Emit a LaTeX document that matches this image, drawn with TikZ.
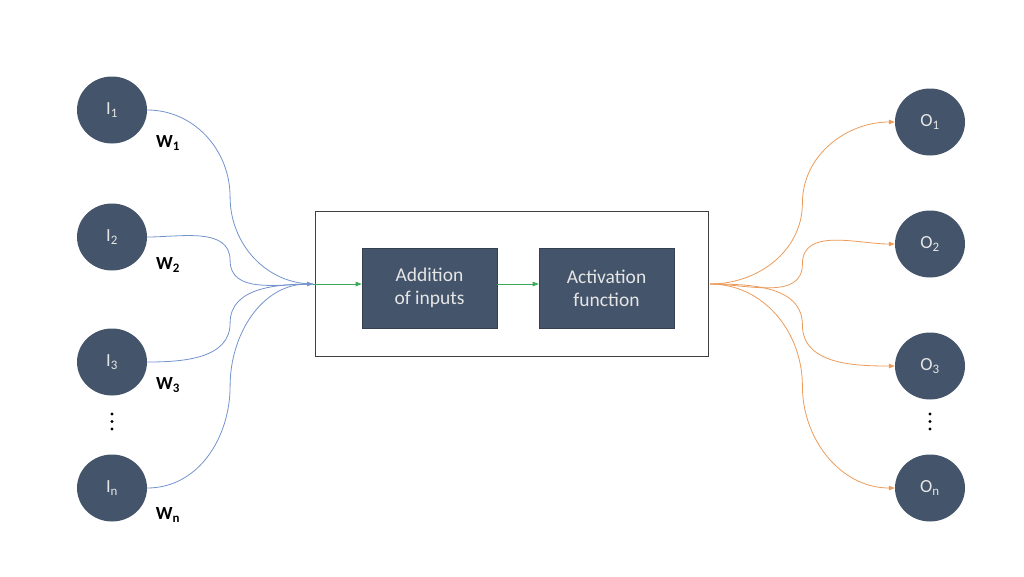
\documentclass[tikz,border=0pt]{standalone}
\usepackage{fontspec}
\setmainfont{Carlito}
\usetikzlibrary{shapes.geometric,arrows.meta,calc}
\definecolor{slate}{HTML}{44546A}
\definecolor{slateedge}{HTML}{34404F}
\definecolor{linkblue}{HTML}{7393CC}
\definecolor{linkorange}{HTML}{EB9B5B}
\definecolor{linkgreen}{HTML}{3CA95A}
\definecolor{boxline}{HTML}{404040}
\definecolor{nodetext}{HTML}{E6E6E6}
\begin{document}
\begin{tikzpicture}[x=1pt,y=-1pt,
  neuron/.style={ellipse, fill=slate, minimum width=70pt, minimum height=67pt, inner sep=0pt, text=nodetext, font=\fontsize{18.5}{20}\selectfont},
  procbox/.style={rectangle, fill=slate, draw=slateedge, line width=0.6pt, minimum width=135pt, minimum height=80pt, inner sep=0pt, text=nodetext, align=center, font=\fontsize{19.5}{23}\selectfont},
  outerbox/.style={rectangle, draw=boxline, line width=0.8pt, minimum width=393pt, minimum height=145pt, inner sep=0pt},
  weight/.style={font=\bfseries\fontsize{18.5}{20}\selectfont, text=black},
  inlink/.style={draw=linkblue, line width=0.8pt},
  inarrow/.style={draw=linkblue, line width=0.8pt, -{Triangle[length=6pt,width=4.5pt]}},
  outlink/.style={draw=linkorange, line width=0.8pt, -{Triangle[length=6pt,width=4.5pt]}},
  flow/.style={draw=linkgreen, line width=0.8pt, -{Triangle[length=6pt,width=4.5pt]}},
  dotmark/.style={fill=black}
]
\useasboundingbox (0,0) rectangle (1024,576);

% input neurons
\node[neuron] (I1) at (112,110) {I\textsubscript{1}};
\node[neuron] (I2) at (112,237) {I\textsubscript{2}};
\node[neuron] (I3) at (112,362) {I\textsubscript{3}};
\node[neuron] (In) at (112,488) {I\textsubscript{n}};

% weights
\node[weight] (W1) at (168,143) {W\textsubscript{1}};
\node[weight] (W2) at (168,265) {W\textsubscript{2}};
\node[weight] (W3) at (168,385) {W\textsubscript{3}};
\node[weight] (Wn) at (168,515) {W\textsubscript{n}};

% output neurons
\node[neuron] (O1) at (930,122) {O\textsubscript{1}};
\node[neuron] (O2) at (930,244) {O\textsubscript{2}};
\node[neuron] (O3) at (930,366) {O\textsubscript{3}};
\node[neuron] (On) at (930,488) {O\textsubscript{n}};

% neuron body
\node[outerbox] (body) at (512,283.5) {};
\node[procbox] (add) at (429.5,288) {Addition\\of inputs};
\node[procbox] (act) at (606.5,288) {Activation\\function};

\coordinate (conv) at (313,284);
\coordinate (src) at (710,284);

% inputs converge
\draw[inlink] (I1.east) to[out=0,in=90] ($(I1.east)!0.5!(conv)$) to[out=-90,in=180] (conv);
\draw[inlink] (I2.east) to[out=0,in=90] ($(I2.east)!0.5!(conv)$) to[out=-90,in=180] (conv);
\draw[inlink] (I3.east) to[out=0,in=-90] ($(I3.east)!0.5!(conv)$) to[out=90,in=180] (conv);
\draw[inarrow] (In.east) to[out=0,in=-90] ($(In.east)!0.5!(conv)$) to[out=90,in=180] (conv);

% internal flow
\draw[flow] (conv) -- (add.west |- conv);
\draw[flow] (add.east |- conv) -- (act.west |- conv);

% outputs diverge
\draw[outlink] (src) to[out=0,in=-90] ($(src)!0.5!(O1.west)$) to[out=90,in=180] (O1.west);
\draw[outlink] (src) to[out=0,in=-90] ($(src)!0.5!(O2.west)$) to[out=90,in=180] (O2.west);
\draw[outlink] (src) to[out=0,in=90] ($(src)!0.5!(O3.west)$) to[out=-90,in=180] (O3.west);
\draw[outlink] (src) to[out=0,in=90] ($(src)!0.5!(On.west)$) to[out=-90,in=180] (On.west);

% ellipsis dots
\fill[dotmark] (112,414) circle (1.7pt);
\fill[dotmark] (112,421.5) circle (1.7pt);
\fill[dotmark] (112,429) circle (1.7pt);
\fill[dotmark] (930,414) circle (1.7pt);
\fill[dotmark] (930,421.5) circle (1.7pt);
\fill[dotmark] (930,429) circle (1.7pt);
\end{tikzpicture}
\end{document}
